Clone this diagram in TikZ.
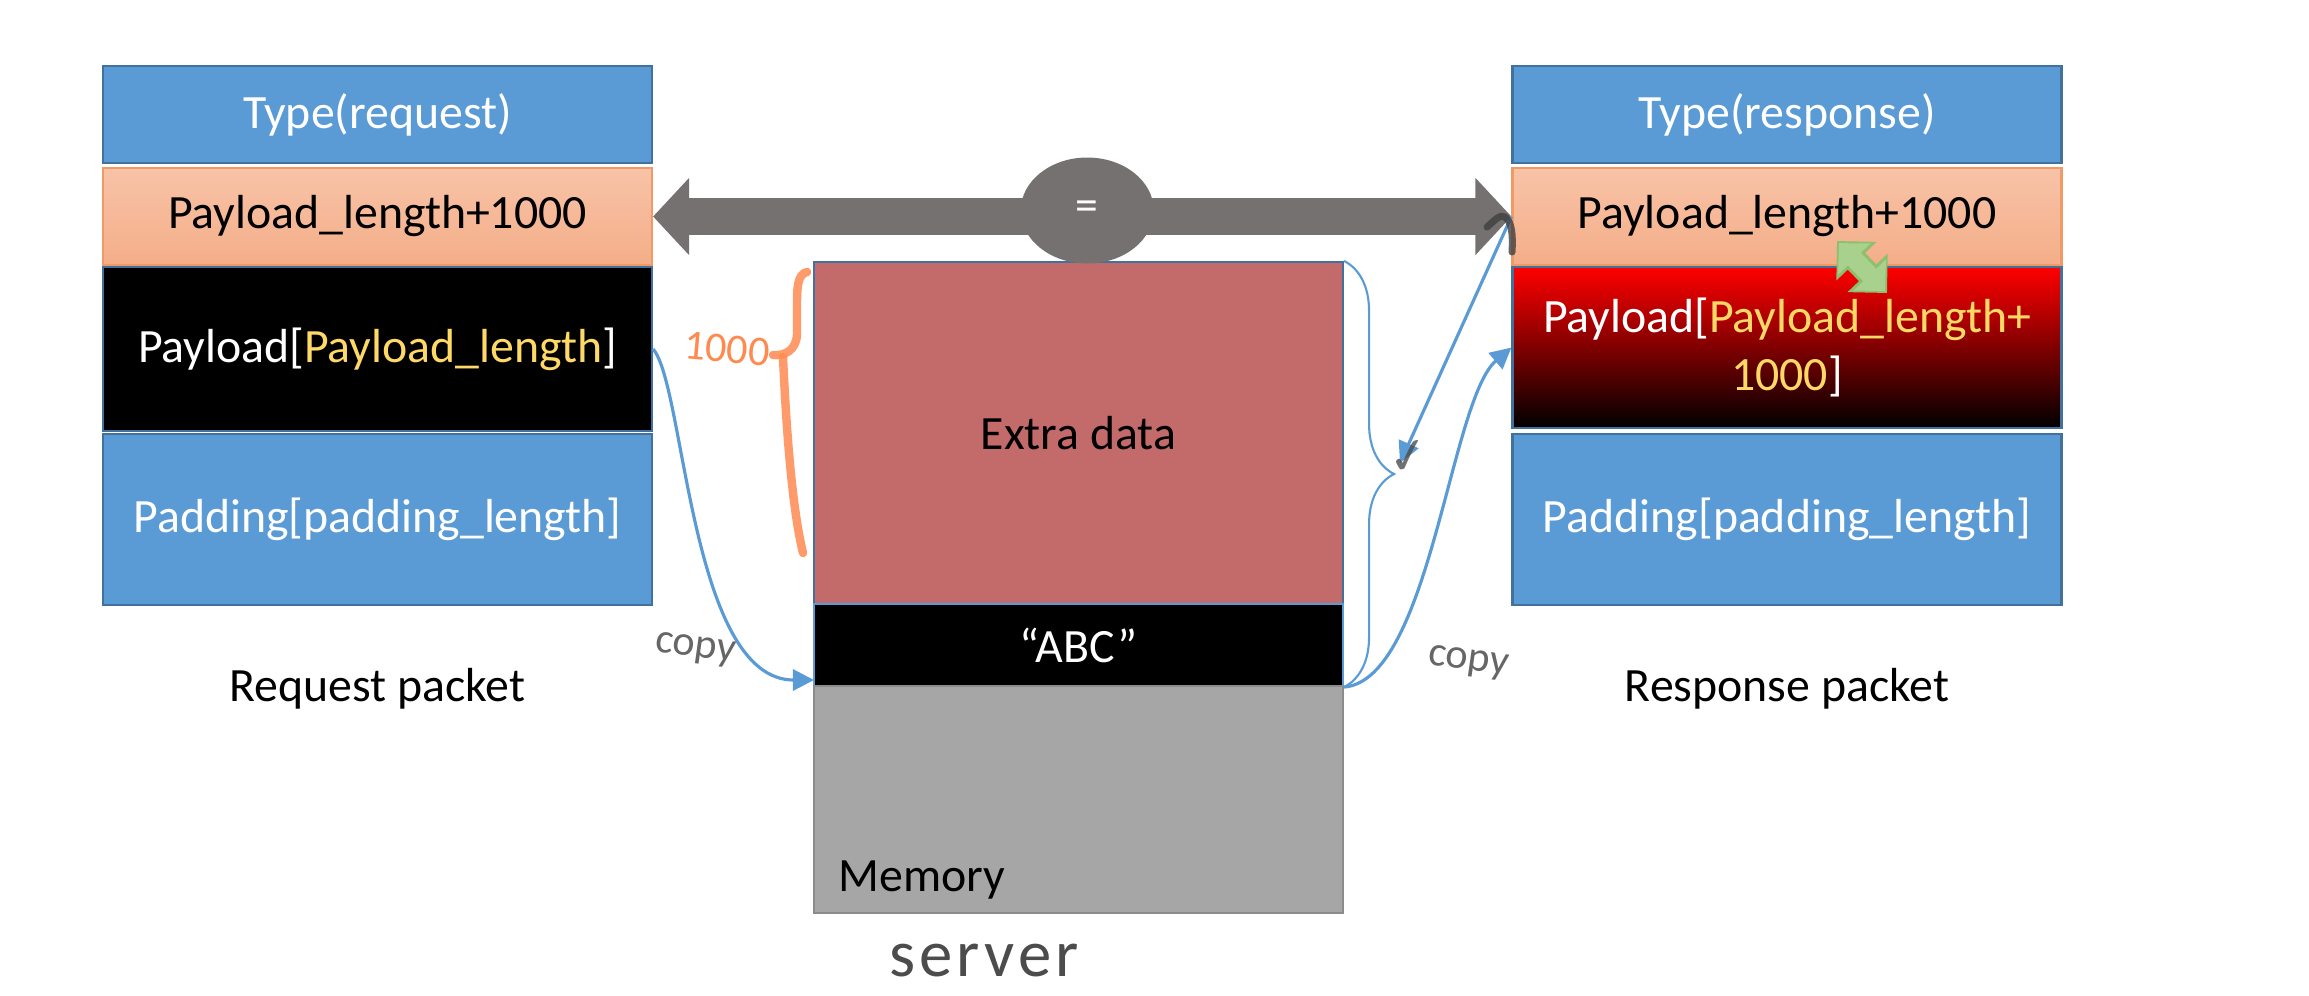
\documentclass[tikz,border=0pt]{standalone}
\usepackage{fontspec}
\setmainfont{Carlito}
\newfontfamily\simboli{DejaVu Sans}
\usetikzlibrary{arrows.meta, positioning, shapes.geometric, decorations.pathreplacing}
\usepackage{xcolor}
\definecolor{blu}{HTML}{5B9BD5}
\definecolor{blubordo}{HTML}{41719C}
\definecolor{pesca}{HTML}{F4AE88}
\definecolor{pescachiaro}{HTML}{F8C3A8}
\definecolor{arancio}{HTML}{F19A66}
\definecolor{giallo}{HTML}{FFD966}
\definecolor{rossomem}{HTML}{C36A6A}
\definecolor{grigiomem}{HTML}{A6A6A6}
\definecolor{grigiofreccia}{HTML}{767171}
\definecolor{verde}{HTML}{A9D18E}
\definecolor{verdebordo}{HTML}{8CBF6E}
\definecolor{penna}{HTML}{FF8A50}

\begin{document}
\begin{tikzpicture}[y=-1cm, >={Triangle[length=6pt, width=6pt]},
			campo/.style={draw=blubordo, line width=0.6pt, minimum width=5.49cm,
				align=center, inner sep=0pt, font=\fontsize{13.6}{16.5}\selectfont},
			tipo/.style={campo, fill=blu, text=white, minimum height=0.97cm},
			lung/.style={campo, draw=arancio, top color=pescachiaro, bottom color=pesca, minimum height=0.97cm},
			memoria/.style={campo, minimum width=5.29cm},
			etichetta/.style={inner sep=0pt, font=\fontsize{13.6}{16.5}\selectfont},
			copia/.style={->, draw=blu, line width=0.9pt},
			mano/.style={text=black!60, inner sep=0pt, font=\fontsize{12}{14}\selectfont}]
	
	\useasboundingbox (0,0) rectangle (23.09,9.95);
	
	% Pacchetto di richiesta
	\node[tipo] (q1) at (3.775,1.145) {Type(request)};
	\node[lung] (q2) at (3.775,2.165) {Payload\_length+1000};
	\node[campo, fill=black, text=white, minimum height=1.64cm] (q3) at (3.775,3.49) {Payload[\textcolor{giallo}{Payload\_length}]};
	\node[tipo, minimum height=1.71cm] (q4) at (3.775,5.195) {Padding[padding\_length]};
	\node[etichetta, below=0.62cm of q4] (qlab) {Request packet};
	
	% Pacchetto di risposta
	\node[tipo] (r1) at (17.87,1.145) {Type(response)};
	\node[lung] (r2) at (17.87,2.165) {Payload\_length+1000};
	\node[campo, top color=red, bottom color=black, text=white, minimum height=1.61cm] (r3) at (17.87,3.475) {Payload[\textcolor{giallo}{Payload\_length+}\\\textcolor{giallo}{1000}]};
	\node[tipo, minimum height=1.71cm] (r4) at (17.87,5.195) {Padding[padding\_length]};
	\node[etichetta, below=0.62cm of r4] (rlab) {Response packet};
	
	% Memoria del server
	\node[memoria, fill=rossomem, minimum height=3.42cm] (m1) at (10.785,4.33) {Extra data};
	\node[memoria, draw=blu, fill=black, text=white, minimum height=0.82cm] (m2) at (10.785,6.45) {“ABC”};
	\node[memoria, draw=black!45, fill=grigiomem, minimum height=2.27cm] (m3) at (10.785,7.995) {};
	\node[etichetta, above right=0.14cm and 0.25cm of m3.south west] (mlab) {Memory};
	\node[mano, text=black!70, font=\fontsize{19}{21}\selectfont\addfontfeatures{LetterSpace=6}] (srv) at (9.84,9.6) {server};
	
	% --- Freccia grigia: lunghezze uguali ---
	\draw[grigiofreccia, line width=0.37cm,
		{Triangle[length=0.36cm, width=0.75cm]}-{Triangle[length=0.36cm, width=0.75cm]}]
		(q2.east) -- (r2.west)
		node[midway, xshift=0.05cm, yshift=0.06cm, ellipse, fill=grigiofreccia, text=white,
			minimum width=1.33cm, minimum height=1.06cm, inner sep=0pt,
			font=\fontsize{13}{16}\selectfont] (uguale) {=};
	
	% --- Copie ---
	\coordinate (abcin) at (8.14,6.8);
	\draw[copia] (q3.east) .. controls (6.85,3.85) and (6.9,6.8) .. (abcin);
	\draw[copia] (m2.south east) .. controls (14.3,6.8) and (14.5,4.0) .. (r3.west);
	\node[mano, rotate=-8] (copia1) at (6.95,6.5) {copy};
	\node[mano, rotate=-8] (copia2) at (14.68,6.63) {copy};
	
	% Graffa blu sui dati letti
	\draw[blu, line width=0.6pt, decorate, decoration={brace, amplitude=0.5cm}]
		(m1.north east) -- (m2.south east);
	\coordinate (punta) at (14.0,4.63);
	\draw[copia] (r2.west) -- (punta);
	\node[text=black!70, opacity=0.8, rotate=10, inner sep=0pt, font=\simboli\fontsize{14}{16}\selectfont] (spunta) at (14.09,4.58) {✓};
	\draw[black!75, line width=2pt, line cap=round, opacity=0.8]
		(14.87,2.27) .. controls (14.95,2.2) and (15.0,2.14) .. (15.05,2.17)
		.. controls (15.12,2.22) and (15.13,2.35) .. (15.12,2.52);
	
	% Lunghezza 1000 (a mano)
	\draw[penna, line width=2.4pt, line cap=round, opacity=0.85]
		(8.07,2.72) .. controls (7.97,2.74) and (7.97,2.9) .. (7.97,3.05)
		-- (7.97,3.35) .. controls (7.96,3.5) and (7.85,3.56) .. (7.73,3.55);
	\draw[penna, line width=2.4pt, line cap=round, opacity=0.85]
		(7.83,3.57) .. controls (7.85,4.0) and (7.9,5.0) .. (8.03,5.53);
	\node[mano, text=penna, rotate=-5] (mille) at (7.27,3.49) {1000};
	
	% Freccia verde
	\coordinate (v1) at (18.37,2.41);
	\coordinate (v2) at (18.87,2.93);
	\draw[verdebordo, line width=0.24cm,
		{Triangle[length=0.28cm, width=0.54cm]}-{Triangle[length=0.28cm, width=0.54cm]}] (v1) -- (v2);
	\draw[verde, line width=0.18cm, shorten <=0.03cm, shorten >=0.03cm,
		{Triangle[length=0.22cm, width=0.44cm]}-{Triangle[length=0.22cm, width=0.44cm]}] (v1) -- (v2);
\end{tikzpicture}
\end{document}
